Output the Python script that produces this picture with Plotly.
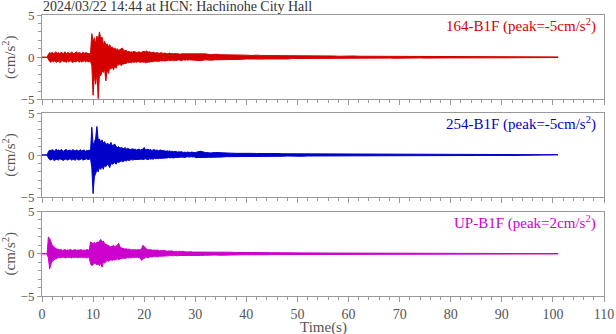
import numpy as np
import plotly.graph_objects as go
from plotly.subplots import make_subplots

# Peak envelopes of the acceleration records (cm/s^2):
# upper = largest value, lower = smallest value within each time bin.
# Early part: 0.25 s bins from 0 s; late part: 1 s bins from 30 s to 101 s.
DT_EARLY = 0.25
DT_LATE = 1.0
T_LATE0 = 30.0

ch164_up_early = [
    0, 0, 0, 0, 0, 0.35,
    0.55, 0.45, 0.6, 0.4, 0.5, 0.65, 0.45, 0.55, 0.4, 0.6, 0.5, 0.45, 0.65, 0.4, 0.55, 0.5,
    0.45, 0.6, 0.55, 0.4, 0.5, 0.65, 0.45, 0.55, 0.5, 0.4, 0.6, 0.45, 0.55, 0.5, 0.45, 0.4, 0.5,
    2.8, 1.8, 2.3, 1.6, 2.5, 2.0, 3.0, 2.2, 2.4, 1.5, 1.9, 1.4, 1.6, 1.2, 1.5, 1.1, 1.2, 1.0, 1.1, 0.9,
    1.0, 0.8, 0.9, 1.0, 1.1, 0.8, 0.75, 0.8, 0.65, 0.7, 0.6, 0.65, 0.6, 0.7, 0.6, 0.55, 0.6, 0.65, 0.55, 0.6,
    0.65, 0.7, 0.65, 0.75, 0.6, 0.65, 0.6, 0.55, 0.6, 0.55, 0.5, 0.55, 0.5, 0.45, 0.55, 0.5, 0.45, 0.5, 0.45, 0.4,
    0.45, 0.5, 0.4, 0.45, 0.4, 0.45, 0.4, 0.45, 0.4, 0.35, 0.4, 0.4, 0.35, 0.4, 0.35, 0.4, 0.35, 0.4, 0.35, 0.35, 0.35,
]
ch164_lo_early = [
    0, 0, 0, 0, 0, -0.3,
    -0.5, -0.6, -0.45, -0.55, -0.4, -0.6, -0.5, -0.45, -0.65, -0.5, -0.4, -0.55, -0.5, -0.6, -0.45, -0.55,
    -0.4, -0.5, -0.65, -0.45, -0.55, -0.5, -0.4, -0.6, -0.45, -0.55, -0.5, -0.4, -0.55, -0.45, -0.5, -0.55, -0.45,
    -1.0, -4.5, -2.0, -3.2, -1.8, -4.9, -2.0, -2.2, -1.6, -1.8, -1.4, -2.8, -1.5, -1.9, -1.3, -1.4, -1.1, -1.5, -1.0, -1.3,
    -0.9, -0.9, -0.8, -1.0, -0.8, -0.8, -0.7, -0.75, -0.6, -0.65, -0.6, -0.65, -0.55, -0.6, -0.55, -0.6, -0.5, -0.55, -0.6, -0.55,
    -0.6, -0.55, -0.65, -0.6, -0.55, -0.6, -0.5, -0.55, -0.5, -0.45, -0.5, -0.45, -0.5, -0.45, -0.4, -0.45, -0.4, -0.45, -0.4, -0.4,
    -0.35, -0.4, -0.4, -0.35, -0.4, -0.35, -0.4, -0.35, -0.3, -0.35, -0.4, -0.35, -0.3, -0.35, -0.3, -0.35, -0.3, -0.35, -0.3, -0.3, -0.3,
]
ch164_up_late = [
    0.4, 0.35, 0.4, 0.3, 0.35, 0.3, 0.3, 0.25, 0.3, 0.25,
    0.25, 0.2, 0.25, 0.2, 0.2, 0.22, 0.18, 0.2, 0.18, 0.2,
    0.18, 0.15, 0.18, 0.15, 0.15, 0.18, 0.15, 0.15, 0.12, 0.15,
    0.12, 0.15, 0.12, 0.12, 0.12, 0.1, 0.12, 0.1, 0.12, 0.1,
    0.1, 0.12, 0.1, 0.1, 0.1, 0.08, 0.1, 0.1, 0.08, 0.1,
    0.08, 0.1, 0.08, 0.08, 0.1, 0.08, 0.08, 0.08, 0.07, 0.08,
    0.07, 0.08, 0.07, 0.07, 0.06, 0.07, 0.06, 0.06, 0.05, 0.05, 0.05, 0.04,
]
ch164_lo_late = [
    -0.35, -0.4, -0.3, -0.35, -0.3, -0.3, -0.25, -0.3, -0.25, -0.25,
    -0.2, -0.25, -0.2, -0.22, -0.2, -0.18, -0.2, -0.18, -0.2, -0.15,
    -0.15, -0.18, -0.15, -0.15, -0.18, -0.12, -0.15, -0.12, -0.15, -0.12,
    -0.12, -0.12, -0.1, -0.12, -0.1, -0.12, -0.1, -0.1, -0.1, -0.12,
    -0.1, -0.08, -0.1, -0.1, -0.08, -0.1, -0.08, -0.08, -0.1, -0.08,
    -0.08, -0.08, -0.07, -0.08, -0.08, -0.07, -0.08, -0.06, -0.07, -0.07,
    -0.06, -0.07, -0.06, -0.06, -0.06, -0.05, -0.06, -0.05, -0.05, -0.04, -0.04, -0.03,
]

ch254_up_early = [
    0, 0, 0, 0, 0, 0.4,
    0.6, 0.5, 0.65, 0.55, 0.45, 0.7, 0.55, 0.6, 0.5, 0.65, 0.55, 0.45, 0.6, 0.65, 0.5, 0.55,
    0.6, 0.45, 0.65, 0.55, 0.5, 0.6, 0.55, 0.45, 0.65, 0.5, 0.55, 0.6, 0.45, 0.55, 0.5, 0.6, 0.45,
    3.3, 1.2, 1.5, 2.0, 3.4, 1.8, 1.9, 1.5, 1.8, 1.4, 1.6, 1.2, 1.4, 1.3, 1.2, 1.5, 1.1, 1.2, 1.3, 1.0,
    0.9, 1.0, 0.8, 0.9, 0.8, 0.75, 0.9, 0.7, 0.8, 0.7, 0.65, 0.7, 0.75, 0.65, 0.7, 0.6, 0.65, 0.7, 0.6, 0.65,
    0.7, 0.9, 0.6, 0.65, 0.7, 0.6, 0.65, 0.55, 0.6, 0.65, 0.55, 0.6, 0.5, 0.55, 0.6, 0.5, 0.55, 0.5, 0.45, 0.5,
    0.45, 0.5, 0.4, 0.45, 0.4, 0.45, 0.4, 0.35, 0.4, 0.35, 0.4, 0.35, 0.3, 0.35, 0.3, 0.35, 0.3, 0.3, 0.35, 0.3, 0.3,
]
ch254_lo_early = [
    0, 0, 0, 0, 0, -0.35,
    -0.55, -0.6, -0.45, -0.6, -0.65, -0.5, -0.55, -0.6, -0.45, -0.55, -0.6, -0.65, -0.45, -0.55, -0.6, -0.5,
    -0.45, -0.6, -0.55, -0.5, -0.65, -0.45, -0.55, -0.6, -0.5, -0.45, -0.6, -0.55, -0.5, -0.45, -0.55, -0.5, -0.45,
    -1.5, -4.6, -2.6, -2.2, -1.8, -2.0, -1.5, -1.7, -1.3, -1.7, -1.2, -1.4, -1.1, -1.2, -1.5, -1.0, -1.1, -1.0, -0.9, -1.1,
    -0.8, -0.9, -0.8, -0.7, -0.8, -0.7, -0.65, -0.7, -0.6, -0.65, -0.6, -0.55, -0.6, -0.55, -0.5, -0.55, -0.5, -0.55, -0.5, -0.5,
    -0.55, -0.5, -0.45, -0.5, -0.55, -0.45, -0.5, -0.45, -0.5, -0.4, -0.45, -0.4, -0.45, -0.4, -0.35, -0.4, -0.35, -0.4, -0.35, -0.35,
    -0.3, -0.35, -0.3, -0.3, -0.35, -0.3, -0.25, -0.3, -0.25, -0.3, -0.25, -0.25, -0.3, -0.25, -0.25, -0.2, -0.25, -0.25, -0.2, -0.25, -0.2,
]
ch254_up_late = [
    0.3, 0.45, 0.3, 0.25, 0.3, 0.25, 0.25, 0.22, 0.2, 0.22,
    0.2, 0.2, 0.18, 0.2, 0.18, 0.15, 0.18, 0.15, 0.15, 0.15,
    0.15, 0.12, 0.15, 0.12, 0.15, 0.12, 0.12, 0.12, 0.1, 0.12,
    0.1, 0.12, 0.1, 0.1, 0.1, 0.1, 0.08, 0.1, 0.1, 0.08,
    0.1, 0.08, 0.08, 0.1, 0.08, 0.08, 0.08, 0.07, 0.08, 0.08,
    0.07, 0.07, 0.08, 0.06, 0.07, 0.07, 0.06, 0.06, 0.07, 0.06,
    0.06, 0.05, 0.06, 0.06, 0.05, 0.05, 0.05, 0.05, 0.04, 0.04, 0.04, 0.03,
]
ch254_lo_late = [
    -0.3, -0.3, -0.25, -0.3, -0.25, -0.25, -0.2, -0.22, -0.2, -0.2,
    -0.18, -0.2, -0.18, -0.15, -0.18, -0.15, -0.15, -0.15, -0.12, -0.15,
    -0.12, -0.15, -0.12, -0.12, -0.1, -0.12, -0.12, -0.1, -0.12, -0.1,
    -0.1, -0.1, -0.1, -0.08, -0.1, -0.08, -0.1, -0.08, -0.08, -0.08,
    -0.08, -0.08, -0.07, -0.08, -0.07, -0.08, -0.07, -0.07, -0.06, -0.07,
    -0.06, -0.07, -0.06, -0.06, -0.06, -0.05, -0.06, -0.06, -0.05, -0.05,
    -0.05, -0.05, -0.04, -0.05, -0.04, -0.04, -0.04, -0.04, -0.03, -0.03, -0.03, -0.02,
]

chUP_up_early = [
    0, 0, 0, 0, 0, 2.0,
    1.8, 1.4, 1.0, 0.9, 0.7, 0.6, 0.55, 0.5, 0.45, 0.5, 0.4, 0.45, 0.5, 0.4, 0.45, 0.4,
    0.5, 0.45, 0.4, 0.45, 0.5, 0.4, 0.45, 0.4, 0.5, 0.45, 0.4, 0.45, 0.4, 0.5, 0.45, 0.4,
    1.4, 1.3, 1.2, 1.35, 1.2, 1.4, 1.3, 1.5, 1.7, 1.4, 1.5, 1.2, 1.1, 1.0, 0.9, 0.85, 0.8, 0.9, 1.0, 0.85,
    0.9, 1.0, 1.25, 0.8, 0.7, 0.65, 0.6, 0.55, 0.6, 0.5, 0.55, 0.5, 0.45, 0.5, 0.45, 0.5, 0.45, 0.5, 0.45, 0.5,
    0.6, 1.0, 0.8, 0.7, 0.55, 0.5, 0.45, 0.5, 0.45, 0.4, 0.45, 0.4, 0.45, 0.4, 0.35, 0.4, 0.35, 0.4, 0.35, 0.35,
    0.3, 0.35, 0.3, 0.35, 0.3, 0.3, 0.25, 0.3, 0.25, 0.3, 0.25, 0.25, 0.3, 0.25, 0.25, 0.2, 0.25, 0.2, 0.25, 0.2, 0.2, 0.2,
]
chUP_lo_early = [
    0, 0, 0, 0, 0, -0.5,
    -1.8, -1.2, -0.9, -0.8, -0.65, -0.55, -0.5, -0.45, -0.5, -0.4, -0.45, -0.4, -0.5, -0.45, -0.4, -0.45,
    -0.4, -0.5, -0.45, -0.4, -0.45, -0.4, -0.5, -0.4, -0.45, -0.4, -0.45, -0.4, -0.45, -0.5, -0.4, -0.45,
    -1.2, -1.4, -1.3, -1.1, -1.2, -1.3, -1.2, -1.4, -1.1, -1.6, -1.0, -1.1, -0.9, -0.8, -0.9, -0.8, -0.7, -0.8, -0.7, -0.75,
    -0.7, -0.6, -0.7, -0.6, -0.55, -0.6, -0.5, -0.55, -0.5, -0.45, -0.5, -0.45, -0.5, -0.4, -0.45, -0.4, -0.45, -0.4, -0.45, -0.5,
    -0.8, -0.6, -0.5, -0.45, -0.4, -0.45, -0.4, -0.35, -0.4, -0.35, -0.3, -0.35, -0.3, -0.35, -0.3, -0.3, -0.25, -0.3, -0.25, -0.3,
    -0.25, -0.25, -0.2, -0.25, -0.2, -0.25, -0.2, -0.2, -0.25, -0.2, -0.2, -0.2, -0.15, -0.2, -0.2, -0.15, -0.2, -0.15, -0.2, -0.15, -0.15, -0.15,
]
chUP_up_late = [
    0.2, 0.25, 0.2, 0.2, 0.22, 0.18, 0.2, 0.18, 0.15, 0.18,
    0.15, 0.15, 0.12, 0.15, 0.12, 0.12, 0.12, 0.1, 0.12, 0.1,
    0.1, 0.1, 0.1, 0.08, 0.1, 0.08, 0.1, 0.08, 0.08, 0.08,
    0.08, 0.08, 0.07, 0.08, 0.07, 0.07, 0.08, 0.07, 0.06, 0.07,
    0.06, 0.07, 0.06, 0.06, 0.06, 0.05, 0.06, 0.06, 0.05, 0.05,
    0.05, 0.05, 0.05, 0.04, 0.05, 0.05, 0.04, 0.04, 0.05, 0.04,
    0.04, 0.04, 0.04, 0.04, 0.03, 0.04, 0.03, 0.03, 0.03, 0.03, 0.03, 0.02,
]
chUP_lo_late = [
    -0.2, -0.2, -0.18, -0.2, -0.15, -0.18, -0.15, -0.15, -0.15, -0.12,
    -0.12, -0.12, -0.12, -0.1, -0.12, -0.1, -0.1, -0.1, -0.08, -0.1,
    -0.08, -0.1, -0.08, -0.08, -0.08, -0.08, -0.07, -0.08, -0.07, -0.07,
    -0.07, -0.06, -0.07, -0.06, -0.06, -0.07, -0.06, -0.05, -0.06, -0.06,
    -0.05, -0.06, -0.05, -0.05, -0.05, -0.05, -0.04, -0.05, -0.05, -0.04,
    -0.04, -0.05, -0.04, -0.04, -0.04, -0.04, -0.04, -0.03, -0.04, -0.04,
    -0.03, -0.03, -0.04, -0.03, -0.03, -0.03, -0.03, -0.02, -0.03, -0.02, -0.02, -0.02,
]

channels = [
    ("164-B1F (peak=-5cm/s<sup>2</sup>)",
     ch164_up_early, ch164_lo_early, ch164_up_late, ch164_lo_late, "#d40000"),
    ("254-B1F (peak=-5cm/s<sup>2</sup>)",
     ch254_up_early, ch254_lo_early, ch254_up_late, ch254_lo_late, "#0000c8"),
    ("UP-B1F (peak=2cm/s<sup>2</sup>)",
     chUP_up_early, chUP_lo_early, chUP_up_late, chUP_lo_late, "#cc00cc"),
]

TITLE = "2024/03/22 14:44 at HCN: Hachinohe City Hall"
FONT = "Liberation Serif, Times New Roman, serif"
GRAY = "#555555"
FRAME = "#999999"

# vertical placement of the three panels (paper fractions)
domains = [(0.6993, 1.0), (0.3523, 0.6512), (0.0, 0.3007)]
PLOT_H = 334 - 15 - 38


def bin_times(early, late):
    return np.concatenate([np.arange(len(early)) * DT_EARLY,
                           T_LATE0 + np.arange(len(late)) * DT_LATE])


fig = make_subplots(rows=3, cols=1, shared_xaxes=True)

for i, (label, up_e, lo_e, up_l, lo_l, color) in enumerate(channels, start=1):
    t_up = bin_times(up_e, up_l)
    t_lo = bin_times(lo_e, lo_l)
    up = np.concatenate([up_e, up_l])
    lo = np.concatenate([lo_e, lo_l])
    # shaded band between the upper and lower peak envelopes
    xs = np.concatenate([t_up, t_lo[::-1]])
    ys = np.concatenate([up, lo[::-1]])
    fig.add_trace(go.Scatter(x=xs, y=ys, mode="lines",
                             line=dict(color=color, width=1),
                             fill="toself", fillcolor=color,
                             showlegend=False, hoverinfo="skip"),
                  row=i, col=1)
    yname = "yaxis" if i == 1 else f"yaxis{i}"
    xname = "xaxis" if i == 1 else f"xaxis{i}"
    fig.layout[yname].update(
        domain=list(domains[i - 1]), range=[-5, 5], automargin=False,
        tickvals=[-5, 0, 5], ticks="outside", ticklen=4, tickcolor=FRAME,
        minor=dict(dtick=1, ticks="outside", ticklen=3, tickcolor=FRAME),
        showline=True, linecolor=FRAME, linewidth=1, mirror=True,
        showgrid=False, zeroline=False,
        tickfont=dict(family=FONT, size=13, color=GRAY),
        title=dict(text="(cm/s<sup>2</sup>)", standoff=2,
                   font=dict(family=FONT, size=15, color=GRAY)),
    )
    fig.layout[xname].update(
        range=[0, 110], dtick=10, ticks="outside", ticklen=5, tickcolor=FRAME,
        minor=dict(dtick=2, ticks="outside", ticklen=3, tickcolor=FRAME),
        showline=True, linecolor=FRAME, linewidth=1, mirror=True,
        showgrid=False, zeroline=False, automargin=False,
        showticklabels=(i == 3),
        tickfont=dict(family=FONT, size=14, color=GRAY),
    )
    fig.add_annotation(text=label, xref="paper", yref="paper",
                       x=0.99, y=domains[i - 1][1], xanchor="right", yanchor="top",
                       yshift=1, showarrow=False,
                       font=dict(family=FONT, size=15, color=color))

# x-axis caption below the bottom panel
fig.add_annotation(text="Time(s)", xref="paper", yref="paper",
                   x=0.5, y=-31 / PLOT_H, xanchor="center", yanchor="middle",
                   showarrow=False, font=dict(family=FONT, size=15, color=GRAY))

fig.add_annotation(text=TITLE, xref="paper", yref="paper", x=0, y=1 + 15 / PLOT_H,
                   xanchor="left", yanchor="top", yshift=2, showarrow=False,
                   borderpad=0,
                   font=dict(family=FONT, size=14, color="#333333"))

fig.update_layout(width=616, height=334,
                  margin=dict(l=42, r=12, t=15, b=38),
                  paper_bgcolor="white", plot_bgcolor="white")

fig.write_html("out.html")
